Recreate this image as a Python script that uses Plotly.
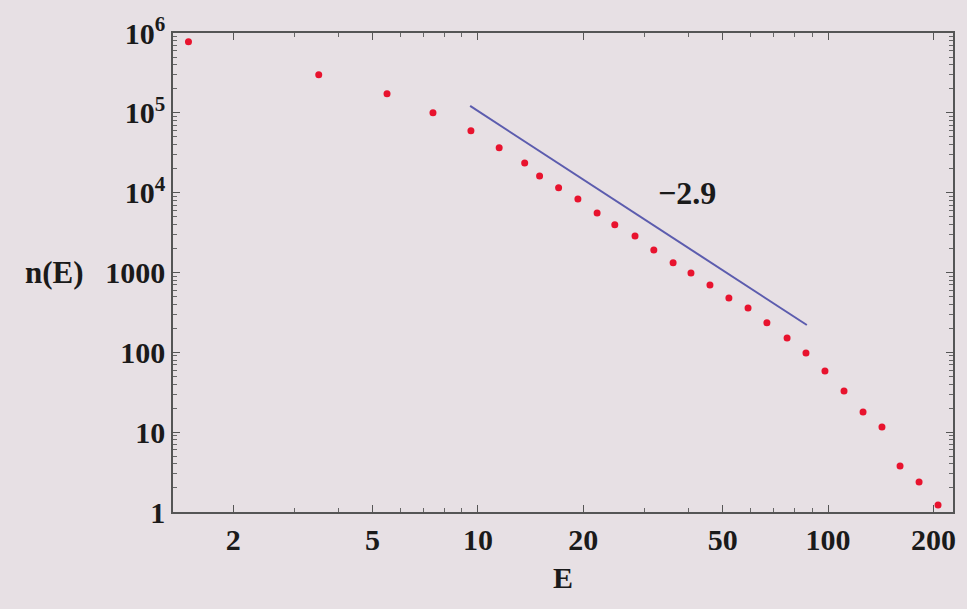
import plotly.graph_objects as go

# Data
energy = [1.49, 3.51, 5.5, 7.44, 9.55, 11.5, 13.6, 15.0, 17.0, 19.3, 21.9, 24.6,
          28.1, 31.8, 36.1, 40.6, 46.0, 52.1, 59.1, 66.9, 76.4, 86.5, 98.0,
          111.1, 125.9, 142.6, 160.6, 182.0, 206.2]
counts = [776000, 299000, 173000, 100000, 59500, 36400, 23600, 16200, 11500,
          8360, 5580, 3950, 2870, 1920, 1320, 988, 699, 481, 360, 234, 151,
          98.3, 58.5, 32.8, 17.9, 11.6, 3.77, 2.38, 1.22]

fit_energy = [9.5, 87.0]
fit_counts = [122000, 220]
slope_label = "\u22122.9"

x_tickvals = [2, 5, 10, 20, 50, 100, 200]
x_ticktext = ["2", "5", "10", "20", "50", "100", "200"]
x_minorvals = [3, 4, 6, 7, 8, 9, 30, 40, 60, 70, 80, 90]
y_tickvals = [1, 10, 100, 1000, 1e4, 1e5, 1e6]
y_ticktext = ["1", "10", "100", "1000", "10<sup>4</sup>", "10<sup>5</sup>", "10<sup>6</sup>"]
y_minorvals = [m * 10 ** d for d in range(6) for m in range(2, 10)]

BG = "#e7e0e4"
FONT = "Liberation Serif"
TXT = "#1a1a1a"

fig = go.Figure()
fig.add_trace(go.Scatter(
    x=fit_energy, y=fit_counts, mode="lines",
    line=dict(color="#5c5cae", width=2), showlegend=False))
fig.add_trace(go.Scatter(
    x=energy, y=counts, mode="markers",
    marker=dict(color="#e8132e", size=7), showlegend=False))

def axis_common(minorvals):
    return dict(
        type="log", showgrid=False, zeroline=False, showline=True,
        linecolor="#555555", linewidth=1.5, mirror="allticks",
        ticks="inside", ticklen=7, tickcolor="#555555", tickwidth=1,
        tickfont=dict(family=FONT, size=30, color=TXT, weight="bold"),
        minor=dict(ticks="inside", ticklen=4, tickcolor="#666666", tickwidth=1,
                   tickmode="array", tickvals=minorvals, showgrid=False),
    )

fig.update_xaxes(
    **axis_common(x_minorvals), range=[0.129, 2.357],
    tickvals=x_tickvals, ticktext=x_ticktext,
    title=dict(text="E", font=dict(family=FONT, size=30, color=TXT, weight="bold"), standoff=12),
)
fig.update_yaxes(
    **axis_common(y_minorvals), range=[0, 6],
    tickvals=y_tickvals, ticktext=y_ticktext,
)

fig.add_annotation(
    text="n(E)", xref="paper", yref="y", x=-0.111, y=3,
    xanchor="right", yanchor="middle", showarrow=False,
    font=dict(family=FONT, size=31, color=TXT, weight="bold"))
fig.add_annotation(
    text=slope_label, xref="paper", yref="paper",
    x=(687 - 173) / 780, y=(512 - 193) / 479,
    xanchor="center", yanchor="middle", showarrow=False,
    font=dict(family=FONT, size=32, color=TXT, weight="bold"))

fig.update_layout(
    width=967, height=609,
    margin=dict(l=173, r=14, t=33, b=97),
    paper_bgcolor=BG, plot_bgcolor=BG,
    font=dict(family=FONT, size=30, color=TXT),
)

fig.write_html(
    "out.html",
    config={"displayModeBar": False},
    post_script="document.body.style.margin='0';document.body.style.overflow='hidden';"
                "document.body.style.background='" + BG + "';",
)
